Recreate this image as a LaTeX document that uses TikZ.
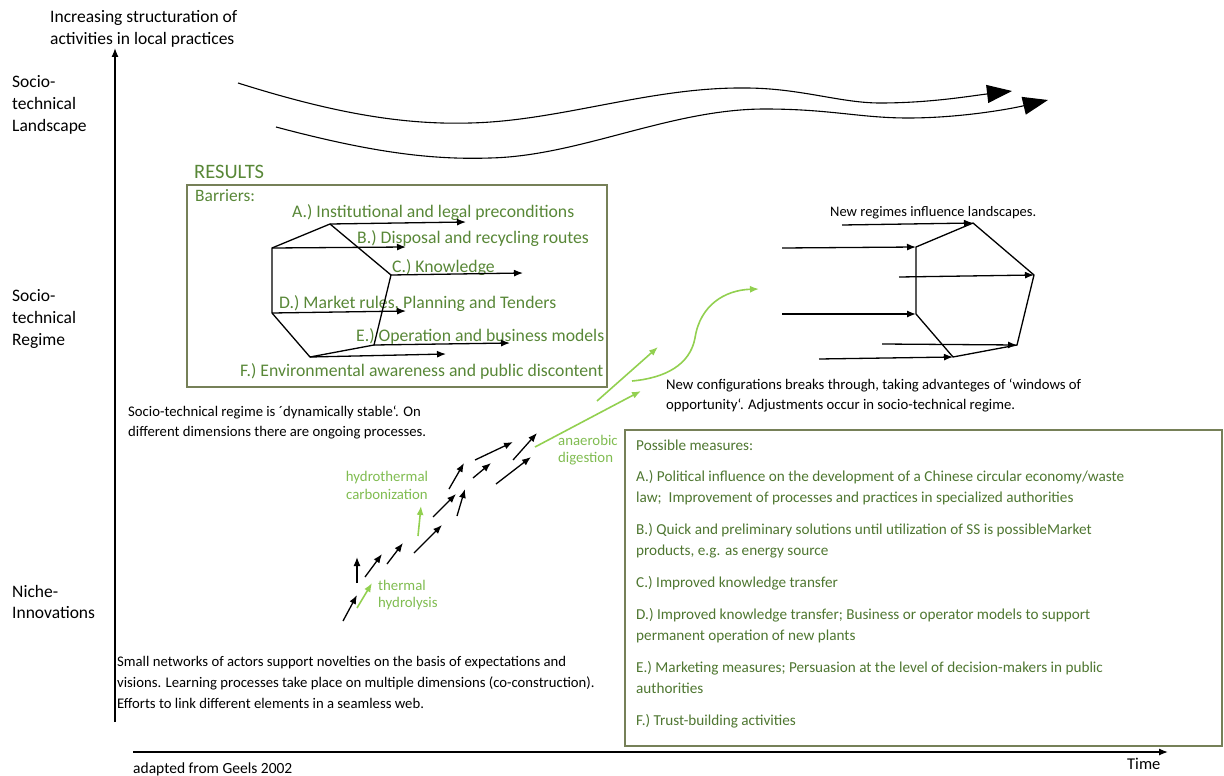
\documentclass[tikz,border=0pt]{standalone}
\usepackage{fontspec}
\setmainfont{Carlito}
\usetikzlibrary{arrows.meta}
\definecolor{tgreen}{RGB}{88,135,55}
\definecolor{mgreen}{RGB}{78,118,48}
\definecolor{lgreen}{RGB}{146,208,80}
\definecolor{ngreen}{RGB}{128,188,80}
\definecolor{boxc}{RGB}{118,128,88}
\begin{document}
\begin{tikzpicture}[x=1pt,y=-1pt,
  arr/.style={-{Latex[length=9pt,width=7pt]}, line width=1.3pt},
  garr/.style={-{Latex[length=9pt,width=7pt]}, line width=1.6pt, lgreen},
  bigarr/.style={-{Triangle[length=25pt,width=18pt]}, line width=1.1pt},
  frame/.style={draw=boxc, line width=1.4pt},
  ml/.style={inner sep=0pt, anchor=north west, align=left},
  sl/.style={inner sep=0pt, anchor=base west},
  f13/.style={font=\fontsize{14.7}{20}\selectfont},
  f14/.style={font=\fontsize{15.2}{21}\selectfont},
  f16/.style={font=\fontsize{17.5}{22}\selectfont},
  fb/.style={font=\fontsize{17.7}{22}\selectfont},
  fn/.style={font=\fontsize{14.8}{17}\selectfont}]
\useasboundingbox (0,0) rectangle (1224,776);

% axes
\coordinate (yb) at (115,722); \coordinate (yt) at (115,48);
\coordinate (xl) at (133,752); \coordinate (xr) at (1168,752);
\draw[arr] (yb) -- (yt);
\draw[arr] (xl) -- (xr);

% axis labels
\node[ml,f16] (inc) at (50,10.5) {Increasing structuration of\\activities in local practices};
\node[ml,f16] (land) at (12,75.5) {Socio-\\technical\\Landscape};
\node[ml,f16] (reg) at (12,289.5) {Socio-\\technical\\Regime};
\node[ml,font=\fontsize{17.5}{21}\selectfont] (nich) at (12,585.5) {Niche-\\Innovations};
\node[sl,font=\fontsize{15.5}{20}\selectfont] (geels) at (133,773.5) {adapted from Geels 2002};
\node[sl,font=\fontsize{16.5}{20}\selectfont] (time) at (1127,769) {Time};

% landscape arrows
\draw[bigarr] (238,83) .. controls (330,112) and (400,125) .. (470,123)
  .. controls (560,121) and (650,87) .. (745,88)
  .. controls (800,88) and (840,103) .. (880,103)
  .. controls (930,103) and (970,96) .. (1012,91);
\draw[bigarr] (276,127) .. controls (370,152) and (430,160) .. (490,158)
  .. controls (580,156) and (670,109) .. (765,109)
  .. controls (830,109) and (860,118) .. (908,118)
  .. controls (960,118) and (1010,109) .. (1048,100);

% RESULTS box
\node[sl,tgreen,font=\fontsize{20.5}{22}\selectfont] (res) at (194,178.5) {RESULTS};
\draw[frame] (187,185) rectangle (607,387);
\node[sl,tgreen,font=\fontsize{17.4}{20}\selectfont] (barr) at (195,201) {Barriers:};
\node[sl,tgreen,fb] (bA) at (292,217) {A.) Institutional and legal preconditions};
\node[sl,tgreen,fb] (bB) at (357,243) {B.) Disposal and recycling routes};
\node[sl,tgreen,fb] (bC) at (392,272) {C.) Knowledge};
\node[sl,tgreen,fb] (bD) at (279,308) {D.) Market rules, Planning and Tenders};
\node[sl,tgreen,fb] (bE) at (356,341) {E.) Operation and business models};
\node[sl,tgreen,fb] (bF) at (240,376) {F.) Environmental awareness and public discontent};

% left regime polygon
\coordinate (p1) at (330,224); \coordinate (p2) at (391,275);
\coordinate (p3) at (374,345); \coordinate (p4) at (310,357);
\coordinate (p5) at (272,313); \coordinate (p6) at (272,248);
\draw[line width=1.3pt] (p6) -- (p1) -- (p2) -- (p3) -- (p4) -- (p5) -- cycle;
\coordinate (a1) at (466,222); \coordinate (a2) at (406,247);
\coordinate (a3) at (523,273); \coordinate (a4) at (406,311);
\coordinate (a5) at (510,343); \coordinate (a6) at (446,354);
\draw[arr] (p1) -- (a1);
\draw[arr] (p6) -- (a2);
\draw[arr] (p2) -- (a3);
\draw[arr] (p5) -- (a4);
\draw[arr] (p3) -- (a5);
\draw[arr] (p4) -- (a6);

% right regime polygon
\coordinate (q1) at (973,223); \coordinate (q2) at (1034,275);
\coordinate (q3) at (1017,345); \coordinate (q4) at (953,357);
\coordinate (q5) at (916,314); \coordinate (q6) at (916,247);
\draw[line width=1.3pt] (q6) -- (q1) -- (q2) -- (q3) -- (q4) -- (q5) -- cycle;
\coordinate (r1) at (842,225); \coordinate (r2) at (782,248);
\coordinate (r3) at (899,277); \coordinate (r4) at (782,314);
\coordinate (r5) at (882,344); \coordinate (r6) at (819,359);
\draw[arr] (r1) -- (q1);
\draw[arr] (r2) -- (q6);
\draw[arr] (r3) -- (q2);
\draw[arr] (r4) -- (q5);
\draw[arr] (r5) -- (q3);
\draw[arr] (r6) -- (q4);
\node[sl,font=\fontsize{14.5}{20}\selectfont] (newreg) at (830,216) {New regimes influence landscapes.};

% texts
\node[ml,f13] (stable) at (128,405.5) {Socio-technical regime is ´dynamically stable`. On\\different dimensions there are ongoing processes.};
\node[ml,f13] (config) at (666,378.5) {New configurations breaks through, taking advanteges of `windows of\\opportunity`. Adjustments occur in socio-technical regime.};
\node[ml,font=\fontsize{14.7}{21}\selectfont] (small) at (117,656.5) {Small networks of actors support novelties on the basis of expectations and\\visions. Learning processes take place on multiple dimensions (co-construction).\\Efforts to link different elements in a seamless web.};

% niche arrows
\coordinate (n1s) at (343,621); \coordinate (n1e) at (357,595);
\coordinate (n2s) at (357,583); \coordinate (n2e) at (357,557);
\coordinate (n3s) at (365,577); \coordinate (n3e) at (382,554);
\coordinate (n4s) at (387,564); \coordinate (n4e) at (403,543);
\coordinate (n5s) at (414,553); \coordinate (n5e) at (442,525);
\coordinate (n6s) at (433,517); \coordinate (n6e) at (456,494);
\coordinate (n7s) at (457,516); \coordinate (n7e) at (465,489);
\coordinate (n8s) at (449,489); \coordinate (n8e) at (464,463);
\coordinate (n9s) at (473,478); \coordinate (n9e) at (491,463);
\coordinate (n10s) at (475,460); \coordinate (n10e) at (513,442);
\coordinate (n11s) at (496,484); \coordinate (n11e) at (531,457);
\coordinate (n12s) at (513,460); \coordinate (n12e) at (537,433);
\foreach \i in {1,...,12} \draw[arr] (n\i s) -- (n\i e);

% green arrows
\coordinate (h1s) at (418,536); \coordinate (h1e) at (421,506);
\coordinate (t1s) at (357,608); \coordinate (t1e) at (372,583);
\draw[garr] (h1s) -- (h1e);
\draw[garr] (t1s) -- (t1e);
\coordinate (g1s) at (535,447); \coordinate (g1e) at (641,391);
\coordinate (g2s) at (597,401); \coordinate (g2e) at (658,347);
\coordinate (g3s) at (632,381); \coordinate (g3e) at (759,289);
\draw[garr] (g1s) -- (g1e);
\draw[garr] (g2s) -- (g2e);
\draw[garr] (g3s) .. controls (665,378) and (690,365) .. (695,338) .. controls (700,305) and (725,290) .. (g3e);

\node[inner sep=0pt, anchor=north, align=center, ngreen, font=\fontsize{14.8}{18}\selectfont] (htc) at (387,471.5) {hydrothermal\\carbonization};
\node[ml, ngreen, fn] (th) at (378,580.5) {thermal\\hydrolysis};
\node[ml, ngreen, fn] (ad) at (558,435.5) {anaerobic\\digestion};

% measures box
\draw[frame] (625,430) rectangle (1222,746);
\node[ml,f14,mgreen] (pm) at (636,439.5) {Possible measures:};
\node[ml,f14,mgreen] (mA) at (636,470.5) {A.) Political influence on the development of a Chinese circular economy/waste\\law;\ \ Improvement of processes and practices in specialized authorities};
\node[ml,f14,mgreen] (mB) at (636,523.5) {B.) Quick and preliminary solutions until utilization of SS is possibleMarket\\products, e.g. as energy source};
\node[ml,f14,mgreen] (mC) at (636,576.5) {C.) Improved knowledge transfer};
\node[ml,f14,mgreen] (mD) at (636,608.5) {D.) Improved knowledge transfer; Business or operator models to support\\permanent operation of new plants};
\node[ml,f14,mgreen] (mE) at (636,661.5) {E.) Marketing measures; Persuasion at the level of decision-makers in public\\authorities};
\node[ml,f14,mgreen] (mF) at (636,714.5) {F.) Trust-building activities};
\end{tikzpicture}
\end{document}
